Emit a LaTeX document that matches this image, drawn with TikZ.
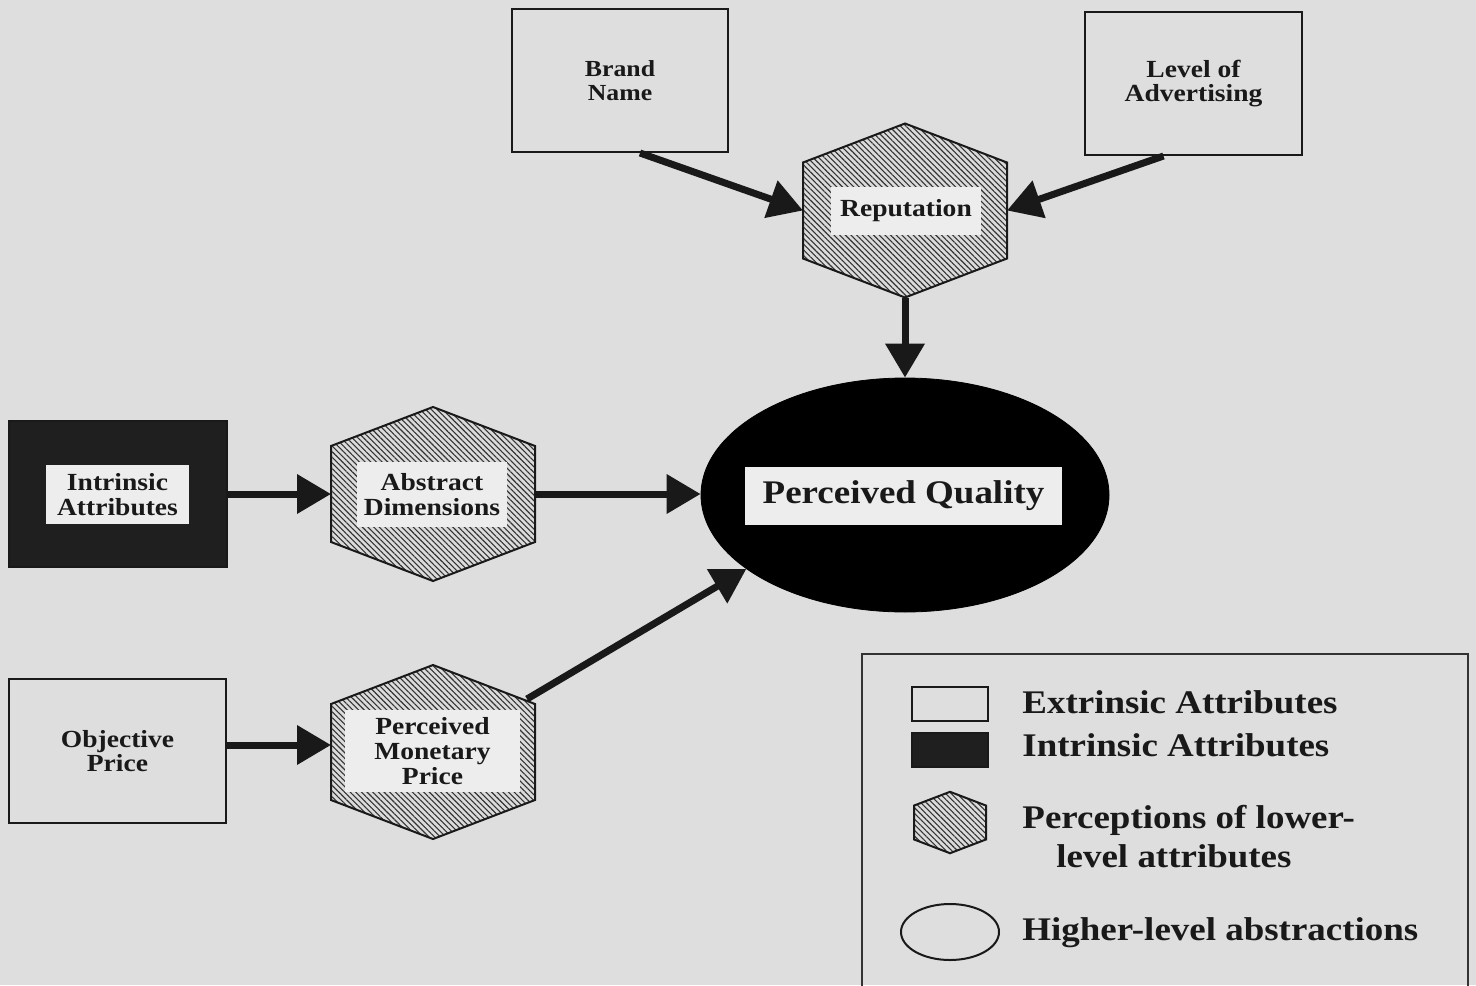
\documentclass[tikz,border=0pt]{standalone}
\usepackage{fontspec}
\setmainfont{Liberation Serif}[FakeStretch=1.12]
\usetikzlibrary{arrows.meta,patterns.meta,calc,shapes.geometric}
\definecolor{bgc}{gray}{0.87}
\definecolor{labelbg}{gray}{0.93}
\definecolor{hatchbg}{gray}{0.86}
\definecolor{hatchc}{gray}{0.2}
\definecolor{darkfill}{gray}{0.12}
\definecolor{ink}{gray}{0.1}
\newcommand\bxfont{\bfseries\fontsize{12.3}{12.2}\selectfont}
\newcommand\smfont{\bfseries\fontsize{11.5}{12}\selectfont}
\newcommand\qfont{\bfseries\fontsize{16.5}{18}\selectfont}
\newcommand\lgfont{\bfseries\fontsize{16.5}{19.5}\selectfont}
\tikzset{
  box/.style={draw=ink, line width=1pt, rectangle, inner sep=0pt, align=center, font=\bxfont, text=ink},
  lab/.style={fill=labelbg, inner sep=0pt, align=center, font=\bxfont, text=ink},
  conn/.style={draw=ink, line width=3.5pt, -{Triangle[length=17pt,width=19pt]}},
  hexa/.pic={
    \draw[draw=ink, line width=1pt, preaction={fill=hatchbg},
          pattern={Lines[angle=-45,distance=2pt,line width=0.55pt]}, pattern color=hatchc]
      (0,-87) -- (102,-48) -- (102,48) -- (0,87) -- (-102,48) -- (-102,-48) -- cycle;
    \coordinate (-l) at (-102,0);
    \coordinate (-r) at (102,0);
    \coordinate (-t) at (0,-87);
    \coordinate (-b) at (0,87);
    \coordinate (-ne) at (94,-53);
  },
  legtext/.style={anchor=base west, inner sep=0pt, font=\lgfont, text=ink}
}
\begin{document}
\begin{tikzpicture}[x=0.5pt,y=-0.5pt]
\useasboundingbox (0,0) rectangle (1476,985);
\fill[bgc] (0,0) rectangle (1476,985);

% boxes
\node[box, minimum width=108pt, minimum height=71.5pt, font=\smfont] (brand) at (620,80.5) {Brand\\Name};
\node[box, minimum width=108.5pt, minimum height=71.5pt] (level) at (1193.5,83.5) {Level of\\Advertising};
\node[box, fill=darkfill, minimum width=109pt, minimum height=73pt] (intr) at (118,494) {};
\node[lab, minimum width=71.5pt, minimum height=29.5pt] (intrl) at (117.5,494.5) {Intrinsic\\Attributes};
\node[box, minimum width=108.5pt, minimum height=72pt] (obj) at (117.5,751) {Objective\\Price};

% hexagons
\pic (rep) at (905,210.5) {hexa};
\node[lab, minimum width=75pt, minimum height=24pt] (repl) at (906,211) {Reputation};
\pic (abs) at (433,494) {hexa};
\node[lab, minimum width=75pt, minimum height=32.5pt] (absl) at (432,494.5) {Abstract\\Dimensions};
\pic (pmp) at (433,752) {hexa};
\node[lab, minimum width=87.5pt, minimum height=41pt, font=\bfseries\fontsize{12.3}{12.6}\selectfont] (pmpl) at (432.5,751) {Perceived\\Monetary\\Price};

% ellipse
\node[ellipse, fill=black, draw=black, minimum width=204pt, minimum height=117pt, inner sep=0pt] (qual) at (905,495) {};
\node[fill=labelbg, inner sep=0pt, minimum width=158.5pt, minimum height=29pt, font=\qfont, text=ink] (quall) at (903.5,496) {Perceived Quality};

% connectors
\coordinate (oe) at ($(obj.east)+(0,-6)$);
\draw[conn] ($(brand.south)+(20,0)$) -- (rep-l);
\draw[conn] ($(level.south)+(-30,0)$) -- (rep-r);
\draw[conn] (rep-b) -- (qual.north);
\draw[conn] (intr.east) -- (intr.east -| abs-l);
\draw[conn] (abs-r) -- (abs-r -| qual.west);
\draw[conn] (oe) -- (oe -| pmp-l);
\draw[conn] (pmp-ne) -- (qual.205);

% legend
\draw[draw=gray!40!black, line width=0.9pt] (862,654) rectangle (1468,995);
\node[box, minimum width=38pt, minimum height=17pt] (lg1) at (950,704) {};
\node[box, fill=darkfill, minimum width=38pt, minimum height=17pt] (lg2) at (950,750) {};
\pic[scale=0.353] (lg3) at (950,822.5) {hexa};
\node[ellipse, draw=ink, line width=1pt, minimum width=49pt, minimum height=28pt, inner sep=0pt] (lg4) at (950,932) {};
\node[legtext] (t1) at (1022,713) {Extrinsic Attributes};
\node[legtext] (t2) at (1022,756) {Intrinsic Attributes};
\node[legtext] (t3) at (1022,828) {Perceptions of lower-};
\node[legtext] (t3b) at (1056,867) {level attributes};
\node[legtext] (t4) at (1022,940) {Higher-level abstractions};
\end{tikzpicture}
\end{document}
